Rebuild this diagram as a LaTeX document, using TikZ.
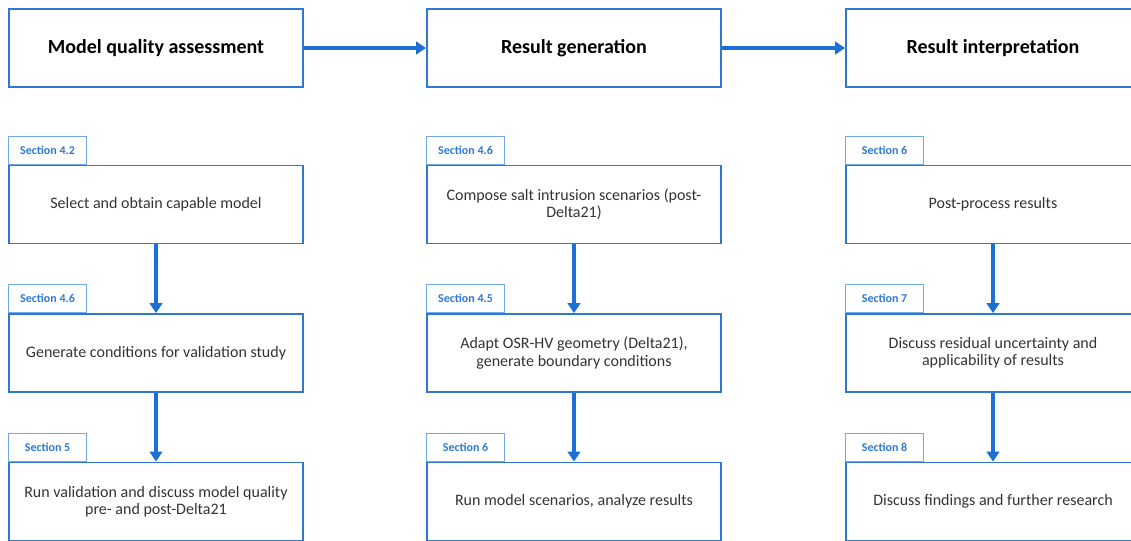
\documentclass[tikz,border=0pt]{standalone}
\usepackage{fontspec}
\setmainfont{Carlito}
\usetikzlibrary{arrows.meta}
\definecolor{boxblue}{HTML}{2F78D2}
\definecolor{arrowblue}{HTML}{1C6FD6}
\definecolor{tabblue}{HTML}{72A9E8}
\definecolor{tabtext}{HTML}{2C7AD6}
\definecolor{bodytext}{HTML}{333333}
\begin{document}
\begin{tikzpicture}[x=0.75pt,y=-0.75pt,
  phase/.style={draw=boxblue,line width=1.5pt,minimum width=220.5pt,minimum height=58.5pt,
    inner sep=0pt,font=\fontsize{15}{18}\selectfont\bfseries},
  task/.style={draw=boxblue,line width=1.4pt,minimum width=220.5pt,minimum height=58.5pt,
    inner sep=0pt,align=center,text=bodytext,font=\fontsize{12}{13}\selectfont},
  tab/.style={draw=tabblue,line width=0.8pt,minimum width=58.5pt,minimum height=21pt,
    anchor=south west,inner sep=0pt,text=tabtext,font=\fontsize{9}{11}\selectfont\bfseries},
  flow/.style={arrowblue,line width=3pt,-{Triangle[length=7.5pt,width=9.5pt]}}
]
\useasboundingbox (0,0) rectangle (1131,540);
\clip (0,0) rectangle (1131,540);

% phase headers
\node[phase] (p1) at (156,48)  {Model quality assessment};
\node[phase] (p2) at (574,48)  {Result generation};
\node[phase] (p3) at (993,48)  {Result interpretation};

% column 1
\node[task] (a1) at (156,204.5) {Select and obtain capable model};
\node[task] (a2) at (156,353)   {Generate conditions for validation study};
\node[task] (a3) at (156,501.5) {Run validation and discuss model quality\\pre- and post-Delta21};

% column 2
\node[task] (b1) at (574,204.5) {Compose salt intrusion scenarios (post-\\Delta21)};
\node[task] (b2) at (574,353)   {Adapt OSR-HV geometry (Delta21),\\generate boundary conditions};
\node[task] (b3) at (574,501.5) {Run model scenarios, analyze results};

% column 3
\node[task] (c1) at (993,204.5) {Post-process results};
\node[task] (c2) at (993,353)   {Discuss residual uncertainty and\\applicability of results};
\node[task] (c3) at (993,501.5) {Discuss findings and further research};

% section tabs
\node[tab] (ta1) at (a1.north west) {Section 4.2};
\node[tab] (ta2) at (a2.north west) {Section 4.6};
\node[tab] (ta3) at (a3.north west) {Section 5};
\node[tab] (tb1) at (b1.north west) {Section 4.6};
\node[tab] (tb2) at (b2.north west) {Section 4.5};
\node[tab] (tb3) at (b3.north west) {Section 6};
\node[tab] (tc1) at (c1.north west) {Section 6};
\node[tab] (tc2) at (c2.north west) {Section 7};
\node[tab] (tc3) at (c3.north west) {Section 8};

% connectors
\draw[flow] (p1.east) -- (p2.west);
\draw[flow] (p2.east) -- (p3.west);
\draw[flow] (a1.south) -- (a2.north);
\draw[flow] (a2.south) -- (a3.north);
\draw[flow] (b1.south) -- (b2.north);
\draw[flow] (b2.south) -- (b3.north);
\draw[flow] (c1.south) -- (c2.north);
\draw[flow] (c2.south) -- (c3.north);
\end{tikzpicture}
\end{document}
